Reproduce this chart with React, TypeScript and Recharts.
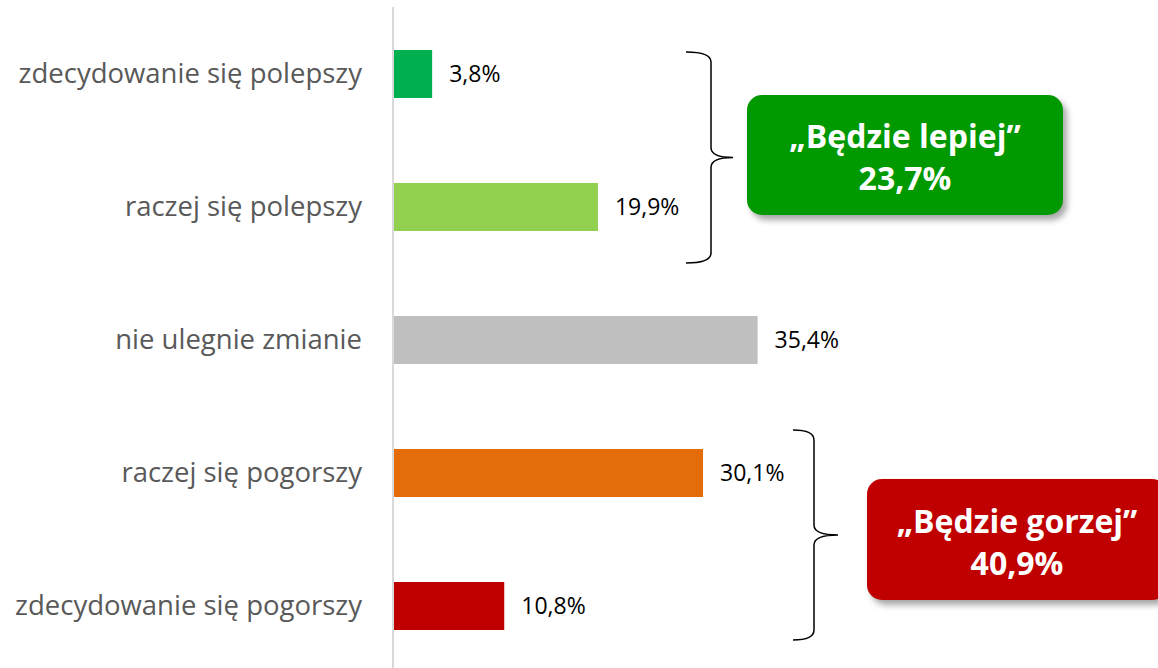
import { BarChart, Bar, XAxis, YAxis, Cell, LabelList } from 'recharts'

const categories = [
  'zdecydowanie się polepszy',
  'raczej się polepszy',
  'nie ulegnie zmianie',
  'raczej się pogorszy',
  'zdecydowanie się pogorszy',
]
const shares = [3.8, 19.9, 35.4, 30.1, 10.8]
const barColors = ['#00B050', '#92D050', '#BFBFBF', '#E46C0A', '#C00000']

const groupLabels = ['„Będzie lepiej”', '„Będzie gorzej”']
const groupTotals = [23.7, 40.9]

const data = categories.map((name, i) => ({ name, value: shares[i] }))

const FONT = '"Open Sans", Lato, sans-serif'

function pct(v: number): string {
  return v.toFixed(1).replace('.', ',') + '%'
}

function CategoryTick(props: any) {
  const { x, y, payload } = props
  return (
    <text x={x - 29} y={y} dy={9} textAnchor="end" fontSize={27.5} fill="#595959" fontFamily={FONT}>
      {payload.value}
    </text>
  )
}

// curly brace opening to the left, pointing right
function brace(tipX: number, lineX: number, pointX: number, top: number, bottom: number): string {
  const mid = (top + bottom) / 2
  const r = 10
  return [
    `M ${tipX} ${top}`,
    `Q ${lineX} ${top} ${lineX} ${top + r}`,
    `L ${lineX} ${mid - r}`,
    `Q ${lineX} ${mid} ${pointX} ${mid}`,
    `Q ${lineX} ${mid} ${lineX} ${mid + r}`,
    `L ${lineX} ${bottom - r}`,
    `Q ${lineX} ${bottom} ${tipX} ${bottom}`,
  ].join(' ')
}

function Callout({ left, top, width, height, color, label, total }: any) {
  return (
    <div
      style={{
        position: 'absolute',
        left,
        top,
        width,
        height,
        background: color,
        borderRadius: 15,
        boxShadow: '4px 5px 6px rgba(0,0,0,0.35)',
        color: '#fff',
        fontFamily: FONT,
        fontWeight: 700,
        fontSize: 32,
        lineHeight: '42px',
        paddingTop: 4,
        boxSizing: 'border-box',
        display: 'flex',
        flexDirection: 'column',
        justifyContent: 'center',
        alignItems: 'center',
      }}
    >
      <div>{label}</div>
      <div>{pct(total)}</div>
    </div>
  )
}

export default function App() {
  return (
    <div style={{ position: 'absolute', left: 0, top: 0, width: 1158, height: 668, overflow: 'hidden', background: '#fff' }}>
      <BarChart
        width={1158}
        height={680}
        data={data}
        layout="vertical"
        margin={{ top: 7, right: 353, left: 0, bottom: 8 }}
      >
        <XAxis type="number" domain={[0, 40]} hide />
        <YAxis
          type="category"
          dataKey="name"
          width={393}
          axisLine={{ stroke: '#D9D9D9', strokeWidth: 2 }}
          tickLine={false}
          tickSize={0}
          tick={<CategoryTick />}
          interval={0}
        />
        <Bar dataKey="value" barSize={48} isAnimationActive={false}>
          {data.map((_, i) => (
            <Cell key={i} fill={barColors[i]} />
          ))}
          <LabelList
            dataKey="value"
            position="right"
            offset={17}
            formatter={(v: any) => pct(Number(v))}
            style={{ fontSize: 23, fill: '#000', fontFamily: FONT }}
          />
        </Bar>
      </BarChart>
      <svg width={1158} height={668} style={{ position: 'absolute', left: 0, top: 0, pointerEvents: 'none' }}>
        <path d={brace(686, 711, 733, 52, 263)} fill="none" stroke="#000" strokeWidth={1.5} />
        <path d={brace(793, 814, 838, 430, 640)} fill="none" stroke="#000" strokeWidth={1.5} />
      </svg>
      <Callout left={747} top={95} width={316} height={120} color="#009900" label={groupLabels[0]} total={groupTotals[0]} />
      <Callout left={867} top={479} width={300} height={121} color="#C00000" label={groupLabels[1]} total={groupTotals[1]} />
    </div>
  )
}
